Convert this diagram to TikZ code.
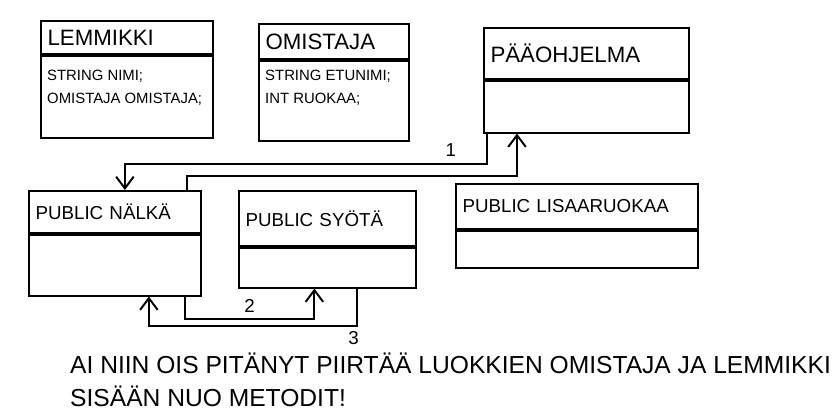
\documentclass[tikz,border=0pt]{standalone}
\usepackage{fontspec}
\setmainfont{Liberation Sans}
\usetikzlibrary{positioning,calc,arrows.meta}

\tikzset{
    sketch/.style={draw, line width=1.5pt},
    head/.style={sketch, anchor=north west, inner xsep=0.2cm, inner ysep=0pt, align=left, font=\fontsize{19}{22}\selectfont},
    methodhead/.style={head, font=\fontsize{16}{19}\selectfont},
    body/.style={sketch, inner sep=0pt},
    attr/.style={anchor=north west, inner sep=0pt, align=left, font=\fontsize{12.7}{20}\selectfont},
    conn/.style={line width=1.7pt},
    numlabel/.style={font=\fontsize{16}{18}\selectfont},
}

\begin{document}
\begin{tikzpicture}[>={Straight Barb[length=10pt,width=15pt]}, x=0.03cm, y=0.03cm]

            % Fixes the size of the page
            \useasboundingbox (0,0) rectangle (833,-419);

            % Draws the class Lemmikki
            \node[head, text width=4.76cm, minimum height=0.99cm] (lemmikki) at (40,-20) {LEMMIKKI};
            \node[body, minimum width=5.16cm, minimum height=2.46cm, below=0pt of lemmikki] (lemmikkiBody) {};
            \node[attr] (lemmikkiAttr) at ($(lemmikkiBody.north west)+(7,-15)$) {STRING NIMI;\\OMISTAJA OMISTAJA;};

            % Draws the class Omistaja
            \node[head, text width=4.1cm, minimum height=1.05cm] (omistaja) at (258,-23) {OMISTAJA};
            \node[body, minimum width=4.5cm, minimum height=2.4cm, below=0pt of omistaja] (omistajaBody) {};
            \node[attr] (omistajaAttr) at ($(omistajaBody.north west)+(7,-10)$) {STRING ETUNIMI;\\INT RUOKAA;};

            % Draws the main program
            \node[head, text width=5.75cm, minimum height=1.53cm] (paaohjelma) at (483,-27) {PÄÄOHJELMA};
            \node[body, minimum width=6.15cm, minimum height=1.56cm, below=0pt of paaohjelma] (paaohjelmaBody) {};

            % Draws the methods
            \node[methodhead, text width=4.76cm, minimum height=1.26cm] (nalka) at (28,-190) {PUBLIC NÄLKÄ};
            \node[body, minimum width=5.16cm, minimum height=1.83cm, below=0pt of nalka] (nalkaBody) {};

            \node[methodhead, text width=4.91cm, minimum height=1.65cm] (syota) at (238,-190) {PUBLIC SYÖTÄ};
            \node[body, minimum width=5.31cm, minimum height=1.2cm, below=0pt of syota] (syotaBody) {};

            \node[methodhead, text width=6.86cm, minimum height=1.35cm] (lisaaRuokaa) at (455,-183) {PUBLIC LISAARUOKAA};
            \node[body, minimum width=7.26cm, minimum height=1.11cm, below=0pt of lisaaRuokaa] (lisaaRuokaaBody) {};

            % Draws the calls, numbered in their order
            \draw[conn,->] ($(paaohjelmaBody.south west)+(4,0)$) -- ++(0,-30) -| node[numlabel, pos=0.05, above=2pt] {1} ($(nalka.north)+(10,0)$);
            \draw[conn,->] ($(nalka.north east)+(-15,0)$) -- ++(0,14) -| ($(paaohjelmaBody.south west)+(34,0)$);
            \draw[conn,->] ($(nalkaBody.south east)+(-17,0)$) -- ++(0,-22) -| node[numlabel, pos=0.25, above=1pt] {2} ($(syotaBody.south)+(-13,0)$);
            \draw[conn,->] ($(syotaBody.south east)+(-60,0)$) -- ++(0,-37) node[numlabel, below left=1pt and -6pt] {3} -| ($(nalkaBody.south)+(34,0)$);

            % Writes the note below
            \node[anchor=north west, inner sep=0pt, align=left, font=\fontsize{21}{28}\selectfont] (note) at (70,-353) {AI NIIN OIS PITÄNYT PIIRTÄÄ LUOKKIEN OMISTAJA JA LEMMIKKI\\SISÄÄN NUO METODIT!};

        \end{tikzpicture}
\end{document}
